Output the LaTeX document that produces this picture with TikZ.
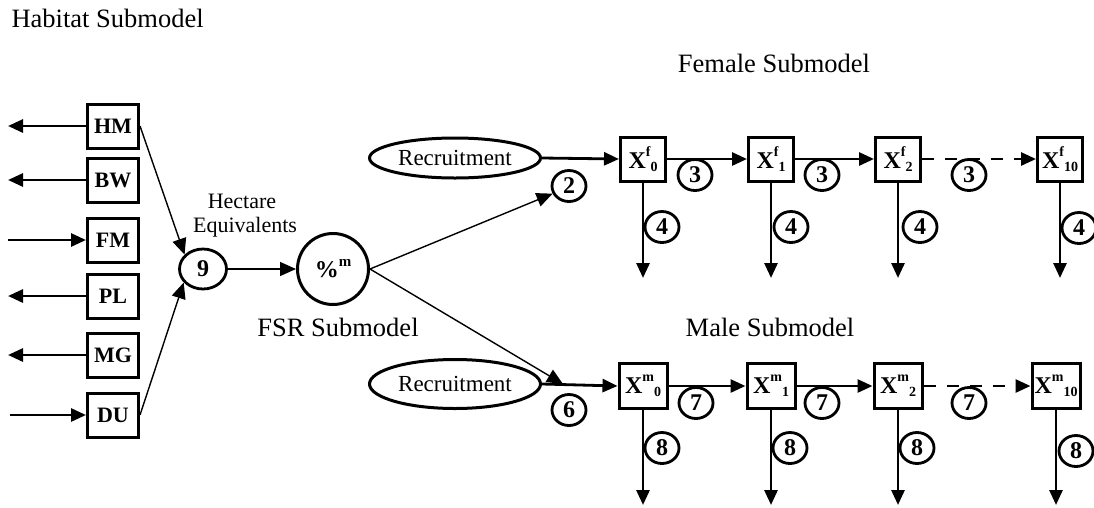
\documentclass[tikz,border=0pt]{standalone}
\usepackage{fontspec}
\setmainfont{Liberation Serif}
\usetikzlibrary{arrows.meta,shapes.geometric}
\newcommand\xlab[2]{X\raisebox{0.5em}{\fontsize{14}{14}\selectfont #1}\raisebox{-0.12em}{\fontsize{14}{14}\selectfont #2}}
\begin{document}
\begin{tikzpicture}[x=1pt,y=-1pt,
  bigtip/.style={-{Triangle[length=15pt,width=13pt]}},
  fat/.style={line width=2.8pt,bigtip},
  slim/.style={line width=1.4pt,-{Triangle[length=16pt,width=14pt]}},
  hbox/.style={draw,line width=3pt,minimum width=51pt,minimum height=44pt,inner sep=0pt,font=\fontsize{22}{26}\selectfont\bfseries},
  xfbox/.style={draw,line width=3pt,minimum width=45pt,minimum height=44pt,inner sep=0pt,font=\fontsize{24}{28}\selectfont\bfseries},
  xmbox/.style={draw,line width=3pt,minimum width=48pt,minimum height=45pt,inner sep=0pt,font=\fontsize{24}{28}\selectfont\bfseries},
  num/.style={draw,ellipse,line width=2.8pt,minimum width=34pt,minimum height=31pt,inner sep=0pt,font=\fontsize{24}{28}\selectfont\bfseries},
  recr/.style={draw,ellipse,line width=3pt,minimum width=171pt,inner sep=0pt,font=\fontsize{23}{27}\selectfont},
  ttl/.style={font=\fontsize{26.5}{30}\selectfont,anchor=base},
  lbl/.style={font=\fontsize{22}{26}\selectfont,anchor=base}]
\useasboundingbox (0,0) rectangle (1094,507);

% titles
\node[ttl,anchor=base west] (tH) at (8,27) {Habitat Submodel};
\node[ttl] (tF) at (774,72) {Female Submodel};
\node[ttl] (tM) at (770,336) {Male Submodel};
\node[ttl] (tS) at (338,336) {FSR Submodel};
\node[lbl] (tHe) at (242,208) {Hectare};
\node[lbl] (tEq) at (245,232) {Equivalents};

% habitat boxes
\node[hbox] (HM) at (113,126) {HM};
\node[hbox] (BW) at (113,180) {BW};
\node[hbox] (FM) at (113,240) {FM};
\node[hbox] (PL) at (113,296) {PL};
\node[hbox] (MG) at (113,355) {MG};
\node[hbox] (DU) at (113,415) {DU};
\coordinate (eHM) at (8,126);
\coordinate (eBW) at (8,180);
\coordinate (eFM) at (8,240);
\coordinate (ePL) at (8,296);
\coordinate (eMG) at (8,355);
\coordinate (eDU) at (10,415);
\draw[fat] (HM.west) -- (eHM);
\draw[fat] (BW.west) -- (eBW);
\draw[fat] (eFM) -- (FM.west);
\draw[fat] (PL.west) -- (ePL);
\draw[fat] (MG.west) -- (eMG);
\draw[fat] (eDU) -- (DU.west);

% hectare equivalents and FSR
\node[num,minimum width=47pt,minimum height=40pt] (c9) at (203,269) {9};
\node[draw,circle,line width=3pt,minimum size=71pt,inner sep=0pt,font=\fontsize{24}{28}\selectfont\bfseries] (pm) at (333,269) {\%\raisebox{0.45em}{\fontsize{15}{15}\selectfont m}};
\draw[slim] (HM.east) -- (c9.142);
\draw[slim] (DU.east) -- (c9.215);
\draw[slim] (c9.east) -- (pm.west);

% female submodel
\node[recr,minimum height=40pt] (rf) at (455,158) {Recruitment};
\node[xfbox] (Xf0) at (643,159) {\xlab{f}{0}};
\node[xfbox] (Xf1) at (771,159) {\xlab{f}{1}};
\node[xfbox] (Xf2) at (898,159) {\xlab{f}{2}};
\node[xfbox] (Xf10) at (1060,159) {\xlab{f}{10}};
\node[num] (n2) at (569,186) {2};
\node[num] (n3a) at (695,175) {3};
\node[num] (n3b) at (822,175) {3};
\node[num] (n3c) at (969,175) {3};
\draw[fat] (rf.east) -- (Xf0.west);
\draw[fat] (Xf0.east) -- (Xf1.west);
\draw[fat] (Xf1.east) -- (Xf2.west);
\draw[fat,dash pattern=on 12pt off 11pt] (Xf2.east) -- (Xf10.west);
\draw[slim] (pm.east) -- (n2.205);
\coordinate (df0) at (643,278);
\coordinate (df1) at (771,278);
\coordinate (df2) at (898,278);
\coordinate (df10) at (1060,278);
\draw[fat] (Xf0.south) -- (df0);
\draw[fat] (Xf1.south) -- (df1);
\draw[fat] (Xf2.south) -- (df2);
\draw[fat] (Xf10.south) -- (df10);
\node[num] (n4a) at (662,227) {4};
\node[num] (n4b) at (791,227) {4};
\node[num] (n4c) at (920,227) {4};
\node[num] (n4d) at (1079,228) {4};

% male submodel
\node[recr,minimum height=49pt] (rm) at (455,384) {Recruitment};
\node[xmbox] (Xm0) at (643,386) {\xlab{m}{0}};
\node[xmbox] (Xm1) at (771,386) {\xlab{m}{1}};
\node[xmbox] (Xm2) at (898,386) {\xlab{m}{2}};
\node[xmbox] (Xm10) at (1056,386) {\xlab{m}{10}};
\draw[fat] (rm.east) -- (Xm0.west);
\draw[fat] (Xm0.east) -- (Xm1.west);
\draw[fat] (Xm1.east) -- (Xm2.west);
\draw[fat,dash pattern=on 12pt off 11pt] (Xm2.east) -- (Xm10.west);
\coordinate (mtip) at (563,384);
\draw[slim] (pm.east) -- (mtip);
\node[num] (n6) at (569,410) {6};
\node[num] (n7a) at (696,403) {7};
\node[num] (n7b) at (822,403) {7};
\node[num] (n7c) at (969,403) {7};
\coordinate (dm0) at (643,505);
\coordinate (dm1) at (771,505);
\coordinate (dm2) at (898,505);
\coordinate (dm10) at (1056,505);
\draw[fat] (Xm0.south) -- (dm0);
\draw[fat] (Xm1.south) -- (dm1);
\draw[fat] (Xm2.south) -- (dm2);
\draw[fat] (Xm10.south) -- (dm10);
\node[num] (n8a) at (662,448) {8};
\node[num] (n8b) at (790,448) {8};
\node[num] (n8c) at (917,448) {8};
\node[num] (n8d) at (1076,451) {8};
\end{tikzpicture}
\end{document}
